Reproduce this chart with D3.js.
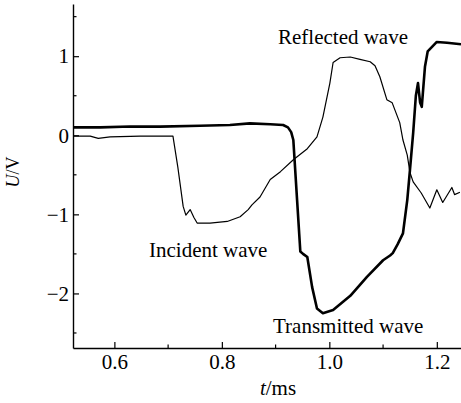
<!DOCTYPE html>
<html>
<head>
<meta charset="utf-8">
<script src="https://cdn.jsdelivr.net/npm/d3@7"></script>
<style>
  body { margin: 0; background: #fff; }
  svg { display: block; }
  text { font-family: "Liberation Serif", "Times New Roman", serif; fill: #000; }
</style>
</head>
<body>
<svg id="chart" width="461" height="403"></svg>
<script>
// Incident bar signal (incident + reflected pulses)
const incidentT = [0.523, 0.555, 0.570, 0.592, 0.648, 0.709, 0.718, 0.728, 0.733, 0.741, 0.748, 0.754,
    0.778, 0.810, 0.834, 0.849, 0.856, 0.871, 0.890, 0.909, 0.933, 0.959, 0.977, 0.988, 1.001, 1.007,
    1.020, 1.039, 1.057, 1.076, 1.085, 1.094, 1.107, 1.117, 1.131, 1.137, 1.145, 1.150, 1.156, 1.171,
    1.187, 1.200, 1.211, 1.228, 1.233, 1.243];
const incidentU = [-0.01, -0.01, -0.04, -0.02, -0.01, -0.01, -0.40, -0.90, -1.01, -0.94, -1.04, -1.11,
    -1.11, -1.09, -1.03, -0.94, -0.88, -0.78, -0.56, -0.46, -0.31, -0.17, -0.02, 0.23, 0.66, 0.92,
    0.98, 0.99, 0.96, 0.93, 0.88, 0.74, 0.45, 0.41, 0.16, -0.06, -0.25, -0.47, -0.59, -0.73,
    -0.92, -0.69, -0.85, -0.66, -0.75, -0.72];

// Transmitted bar signal
const transT = [0.523, 0.574, 0.629, 0.685, 0.759, 0.815, 0.852, 0.890, 0.914, 0.923, 0.929, 0.933,
    0.940, 0.946, 0.951, 0.959, 0.968, 0.977, 0.988, 1.007, 1.039, 1.070, 1.100, 1.113, 1.118, 1.127,
    1.137, 1.145, 1.150, 1.156, 1.161, 1.165, 1.169, 1.172, 1.178, 1.183, 1.200, 1.219, 1.245];
const transU = [0.10, 0.10, 0.11, 0.11, 0.12, 0.13, 0.15, 0.14, 0.13, 0.10, 0.04, -0.06,
    -0.82, -1.47, -1.50, -1.54, -1.92, -2.19, -2.25, -2.21, -2.03, -1.79, -1.58, -1.52, -1.49, -1.38,
    -1.24, -0.82, -0.44, 0.03, 0.50, 0.66, 0.41, 0.36, 0.87, 1.06, 1.18, 1.17, 1.15];

const xTicks = [0.6, 0.8, 1.0, 1.2];
const xMinor = [0.7, 0.9, 1.1];
const yTicks = [-2, -1, 0, 1];
const yMinor = [-2.5, -1.5, -0.5, 0.5, 1.5];

const svg = d3.select('#chart');
const mLeft = 73, mRight = 461, mTop = 4, mBottom = 348;
const serif = '"Liberation Serif", "Times New Roman", serif';

const x = d3.scaleLinear().domain([0.523, 1.245]).range([mLeft, mRight]);
const y = d3.scaleLinear().domain([-2.69, 1.66]).range([mBottom, mTop]);

// Curves
const line = d3.line().x(d => x(d[0])).y(d => y(d[1]));

svg.append('path')
    .datum(d3.zip(transT, transU))
    .attr('d', line)
    .attr('fill', 'none')
    .attr('stroke', '#000')
    .attr('stroke-width', 2.6)
    .attr('stroke-linejoin', 'round');

svg.append('path')
    .datum(d3.zip(incidentT, incidentU))
    .attr('d', line)
    .attr('fill', 'none')
    .attr('stroke', '#000')
    .attr('stroke-width', 1.2)
    .attr('stroke-linejoin', 'round');

// Axes (ticks point inward)
const xAxis = svg.append('g')
    .attr('transform', `translate(0,${mBottom})`)
    .call(d3.axisBottom(x).tickValues(xTicks).tickFormat(d3.format('.1f'))
        .tickSizeInner(-6).tickSizeOuter(0).tickPadding(6));

xAxis.append('g').selectAll('line').data(xMinor).join('line')
    .attr('x1', d => x(d)).attr('x2', d => x(d))
    .attr('y1', 0).attr('y2', -3.5)
    .attr('stroke', '#000').attr('stroke-width', 1.2);

const yAxis = svg.append('g')
    .attr('transform', `translate(${mLeft},0)`)
    .call(d3.axisLeft(y).tickValues(yTicks).tickFormat(d => d < 0 ? '\u2212' + Math.abs(d) : d)
        .tickSizeInner(-6).tickSizeOuter(0).tickPadding(4));

yAxis.append('g').selectAll('line').data(yMinor).join('line')
    .attr('x1', 0).attr('x2', 3.5)
    .attr('y1', d => y(d)).attr('y2', d => y(d))
    .attr('stroke', '#000').attr('stroke-width', 1.2);

svg.selectAll('g').attr('font-family', serif).attr('font-size', 21);
svg.selectAll('.domain').attr('stroke-width', 1.4);
svg.selectAll('.tick line').attr('stroke-width', 1.2);

// Axis titles
const xTitle = svg.append('text')
    .attr('x', 278).attr('y', 395)
    .attr('text-anchor', 'middle')
    .style('font-size', '21px');
xTitle.append('tspan').style('font-style', 'italic').text('t');
xTitle.append('tspan').text('/ms');

const yTitle = svg.append('text')
    .attr('transform', 'translate(19,172) rotate(-90)')
    .attr('text-anchor', 'middle')
    .style('font-size', '18px');
yTitle.append('tspan').style('font-style', 'italic').text('U');
yTitle.append('tspan').text('/V');

// Curve labels
svg.append('text').attr('x', 278).attr('y', 44).style('font-size', '21px').text('Reflected wave');
svg.append('text').attr('x', 149).attr('y', 257).style('font-size', '21px').text('Incident wave');
svg.append('text').attr('x', 273).attr('y', 333).style('font-size', '21px').text('Transmitted wave');
</script>
</body>
</html>
